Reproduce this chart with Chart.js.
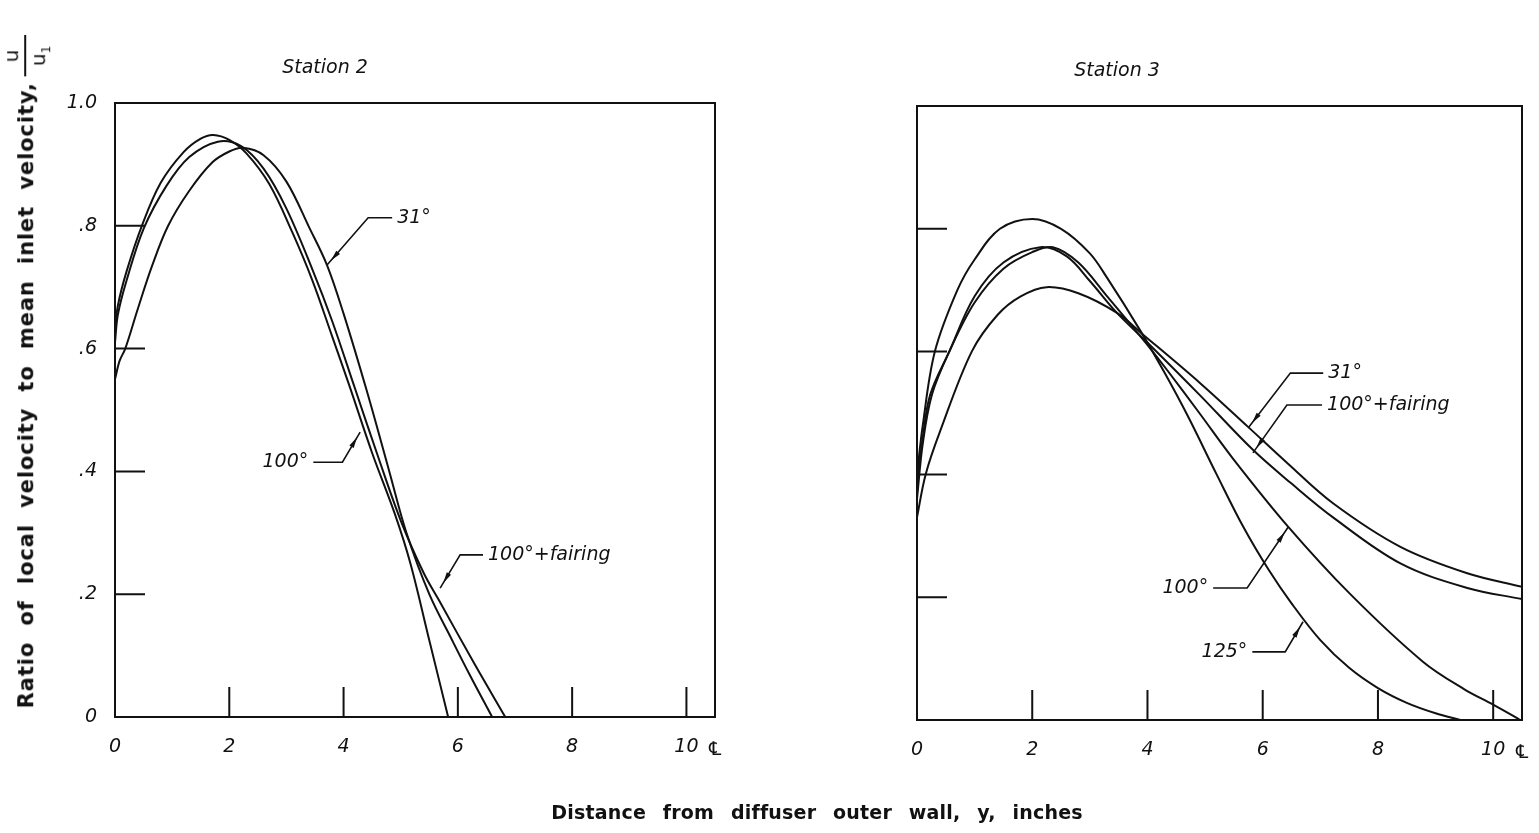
<!DOCTYPE html>
<html><head><meta charset="utf-8">
<script src="https://cdn.jsdelivr.net/npm/chart.js@4.4.1/dist/chart.umd.min.js"></script>
<style>
html,body{margin:0;padding:0;background:#fff;width:1539px;height:833px;overflow:hidden;position:relative}
canvas{position:absolute;top:0}
#c2{left:0}
#c3{left:780px}
.stitle{position:absolute;font-family:"DejaVu Sans";font-style:italic;font-size:19px;color:#111;transform:translate(-50%,-50%);white-space:nowrap}
#xtitle{position:absolute;left:817px;top:812px;transform:translate(-50%,-50%);font-family:"DejaVu Sans";font-weight:bold;font-size:19px;letter-spacing:0.2px;word-spacing:10px;color:#111;white-space:nowrap}
#ytitle{position:absolute;left:27px;top:372px;transform:translate(-50%,-50%) rotate(-90deg);font-family:"DejaVu Sans";font-weight:bold;font-size:21px;letter-spacing:0.9px;word-spacing:8px;color:#111;white-space:nowrap}
.frac{display:inline-block;vertical-align:middle;text-align:center;line-height:1.05;margin-left:6px;font-size:20px;letter-spacing:0;font-weight:normal}
.frac .num{display:block;border-bottom:2px solid #111;padding:0 14px 2px}
.frac .den{display:block;padding-top:2px}
.ubar{text-decoration:overline}
</style></head>
<body>
<canvas id="c2" width="760" height="833"></canvas>
<canvas id="c3" width="759" height="833"></canvas>
<div class="stitle" id="t2" style="left:325px;top:66px"></div>
<div class="stitle" id="t3" style="left:1117px;top:69px"></div>
<div id="xtitle">Distance from diffuser outer wall, y, inches</div>
<div id="ytitle"><span>Ratio of local velocity to mean inlet velocity,</span><span class="frac"><span class="num">u</span><span class="den"><span class="ubar">u</span><sub style="font-size:12px">1</sub></span></span></div>
<script>
// ---- tick values / labels ----
const xTicks = [0, 2, 4, 6, 8, 10];
const yTicks = [0, 0.2, 0.4, 0.6, 0.8, 1.0];
const yTickLabels = ['0', '.2', '.4', '.6', '.8', '1.0'];
const seriesNames = ['31°', '100°', '100°+fairing', '125°'];
const stationTitles = ['Station 2', 'Station 3'];

// ---- Station 2 ----
const s2_31_x = [0, 0.08, 0.18, 0.4, 0.65, 0.93, 1.3, 1.7, 2.0, 2.24, 2.6, 3.0, 3.4, 3.71, 4.0, 4.41, 4.8, 5.1, 5.5, 5.9, 6.2, 6.6];
const s2_31_y = [0.55, 0.58, 0.60, 0.665, 0.735, 0.80, 0.857, 0.903, 0.921, 0.927, 0.915, 0.872, 0.797, 0.736, 0.657, 0.53, 0.40, 0.30, 0.20, 0.125, 0.07, 0];
const s2_100_x = [0, 0.05, 0.2, 0.47, 0.8, 1.2, 1.5, 1.72, 2.0, 2.3, 2.7, 3.1, 3.45, 3.8, 4.1, 4.5, 4.9, 5.17, 5.5, 5.83];
const s2_100_y = [0.63, 0.67, 0.725, 0.80, 0.87, 0.92, 0.942, 0.948, 0.94, 0.918, 0.868, 0.79, 0.712, 0.62, 0.54, 0.43, 0.33, 0.25, 0.125, 0];
const s2_fair_x = [0, 0.05, 0.2, 0.5, 0.9, 1.3, 1.8, 2.2, 2.6, 3.0, 3.45, 3.8, 4.2, 4.6, 5.0, 5.4, 5.67, 6.3, 6.83];
const s2_fair_y = [0.61, 0.655, 0.71, 0.795, 0.865, 0.912, 0.937, 0.93, 0.893, 0.828, 0.73, 0.645, 0.535, 0.425, 0.32, 0.235, 0.19, 0.085, 0];

// ---- Station 3 ----
const s3_31_x = [0, 0.15, 0.4, 0.95, 1.4, 1.8, 2.25, 2.8, 3.47, 3.92, 4.91, 5.75, 6.42, 7.22, 8.39, 9.55, 10.5];
const s3_31_y = [0.33, 0.40, 0.47, 0.60, 0.66, 0.69, 0.705, 0.695, 0.663, 0.628, 0.549, 0.477, 0.419, 0.353, 0.282, 0.239, 0.217];
const s3_fair_x = [0, 0.1, 0.23, 0.56, 1.0, 1.5, 2.14, 2.6, 3.0, 3.47, 4.05, 4.9, 5.83, 6.5, 7.22, 8.39, 9.55, 10.5];
const s3_fair_y = [0.38, 0.46, 0.53, 0.60, 0.69, 0.745, 0.77, 0.755, 0.715, 0.663, 0.61, 0.53, 0.44, 0.385, 0.33, 0.255, 0.215, 0.197];
const s3_100_x = [0, 0.1, 0.26, 0.56, 1.0, 1.5, 2.0, 2.36, 2.8, 3.3, 3.7, 4.05, 4.34, 4.9, 5.49, 6.44, 7.52, 8.78, 9.5, 10.0, 10.47];
const s3_100_y = [0.36, 0.45, 0.53, 0.60, 0.68, 0.735, 0.762, 0.77, 0.745, 0.69, 0.645, 0.605, 0.57, 0.50, 0.425, 0.315, 0.205, 0.095, 0.05, 0.025, 0];
const s3_125_x = [0, 0.1, 0.31, 0.7, 1.0, 1.44, 2.0, 2.5, 3.0, 3.3, 3.87, 4.3, 4.7, 5.2, 5.66, 6.1, 6.5, 7.0, 7.5, 8.0, 8.5, 9.0, 9.43];
const s3_125_y = [0.40, 0.48, 0.60, 0.70, 0.75, 0.80, 0.816, 0.80, 0.76, 0.72, 0.635, 0.565, 0.495, 0.40, 0.315, 0.245, 0.19, 0.13, 0.085, 0.052, 0.028, 0.011, 0];

const pts = (xs, ys) => xs.map((x, i) => ({x: x, y: ys[i]}));

document.getElementById('t2').textContent = stationTitles[0];
document.getElementById('t3').textContent = stationTitles[1];

const INK = '#111';
const tickFont = {family: '"DejaVu Sans"', size: 19, style: 'italic'};

const decor = {
  id: 'decor',
  afterDatasetsDraw(chart, args, opts) {
    const ctx = chart.ctx, a = chart.chartArea, x = chart.scales.x, y = chart.scales.y;
    ctx.save();
    ctx.strokeStyle = INK; ctx.fillStyle = INK; ctx.lineWidth = 2;
    ctx.strokeRect(a.left, a.top, a.right - a.left, a.bottom - a.top);
    ctx.beginPath();
    x.ticks.forEach(t => { if (t.value <= 0) return; const px = x.getPixelForValue(t.value); ctx.moveTo(px, a.bottom); ctx.lineTo(px, a.bottom - 30); });
    y.ticks.forEach(t => { if (t.value <= 0 || t.value >= 1) return; const py = y.getPixelForValue(t.value); ctx.moveTo(a.left, py); ctx.lineTo(a.left + 30, py); });
    ctx.stroke();
    ctx.font = 'italic 19px "DejaVu Sans"'; ctx.textAlign = 'center'; ctx.textBaseline = 'middle';
    ctx.fillText('\u2104', x.getPixelForValue(x.max), a.bottom + 33);
    ctx.lineWidth = 1.6;
    (opts.notes || []).forEach(n => {
      const tx = x.getPixelForValue(n.tip[0]), ty = y.getPixelForValue(n.tip[1]);
      const ex = x.getPixelForValue(n.elbow[0]), ey = y.getPixelForValue(n.elbow[1]);
      const fx = x.getPixelForValue(n.end[0]), fy = y.getPixelForValue(n.end[1]);
      ctx.beginPath(); ctx.moveTo(fx, fy); ctx.lineTo(ex, ey); ctx.lineTo(tx, ty); ctx.stroke();
      const dx = tx - ex, dy = ty - ey, L = Math.hypot(dx, dy), ux = dx / L, uy = dy / L;
      const px = tx - ux * 6, py = ty - uy * 6, bx = px - ux * 11, by = py - uy * 11;
      ctx.beginPath(); ctx.moveTo(px, py); ctx.lineTo(bx - uy * 2.5, by + ux * 2.5); ctx.lineTo(bx + uy * 2.5, by - ux * 2.5); ctx.closePath(); ctx.fill();
      ctx.font = 'italic 19px "DejaVu Sans"'; ctx.textBaseline = 'middle';
      const right = fx > ex;
      ctx.textAlign = right ? 'left' : 'right';
      ctx.fillText(seriesNames[n.s], fx + (right ? 5 : -5), fy);
    });
    ctx.restore();
  }
};

function ds(label, xs, ys) {
  return {label: label, data: pts(xs, ys), borderColor: INK, borderWidth: 2, pointRadius: 0, fill: false, tension: 0.35};
}

function makeChart(id, datasets, cfg) {
  return new Chart(document.getElementById(id), {
    type: 'line',
    data: {datasets: datasets},
    options: {
      responsive: false, animation: false, devicePixelRatio: 1,
      layout: {padding: {top: cfg.top, right: cfg.right, left: 0, bottom: 0}},
      plugins: {legend: {display: false}, tooltip: {enabled: false}, decor: {notes: cfg.notes}},
      scales: {
        x: {type: 'linear', min: 0, max: 10.5,
            afterBuildTicks: s => { s.ticks = xTicks.map(v => ({value: v})); },
            afterFit: s => { s.height = cfg.xh; },
            grid: {display: false}, border: {display: false},
            ticks: {color: INK, font: tickFont, padding: 11, maxRotation: 0, autoSkip: false, callback: v => String(v)}},
        y: {type: 'linear', min: 0, max: 1.0,
            afterBuildTicks: s => { s.ticks = yTicks.map(v => ({value: v})); },
            afterFit: s => { s.width = cfg.yw; },
            grid: {display: false}, border: {display: false},
            ticks: {display: cfg.ylabels, color: INK, font: tickFont, padding: 10, autoSkip: false,
                    callback: (v, i) => yTickLabels[yTicks.indexOf(v)]}}
      }
    },
    plugins: [decor]
  });
}

makeChart('c2', [
  ds(seriesNames[0], s2_31_x, s2_31_y),
  ds(seriesNames[1], s2_100_x, s2_100_y),
  ds(seriesNames[2], s2_fair_x, s2_fair_y)
], {top: 103, right: 45, xh: 116, yw: 115, ylabels: true, notes: [
  {s: 0, tip: [3.71, 0.736], elbow: [4.43, 0.813], end: [4.85, 0.813]},
  {s: 1, tip: [4.29, 0.464], elbow: [3.98, 0.415], end: [3.47, 0.415]},
  {s: 2, tip: [5.69, 0.21], elbow: [6.04, 0.264], end: [6.44, 0.264]}
]});

makeChart('c3', [
  ds(seriesNames[0], s3_31_x, s3_31_y),
  ds(seriesNames[2], s3_fair_x, s3_fair_y),
  ds(seriesNames[1], s3_100_x, s3_100_y),
  ds(seriesNames[3], s3_125_x, s3_125_y)
], {top: 106, right: 17, xh: 113, yw: 137, ylabels: false, notes: [
  {s: 0, tip: [5.75, 0.476], elbow: [6.48, 0.565], end: [7.05, 0.565]},
  {s: 2, tip: [5.83, 0.435], elbow: [6.42, 0.513], end: [7.03, 0.513]},
  {s: 1, tip: [6.44, 0.314], elbow: [5.73, 0.215], end: [5.14, 0.215]},
  {s: 3, tip: [6.70, 0.16], elbow: [6.39, 0.111], end: [5.82, 0.111]}
]});
</script>
</body></html>
